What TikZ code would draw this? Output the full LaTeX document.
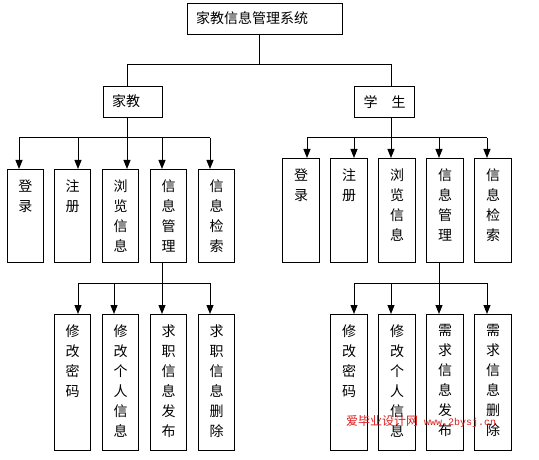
\documentclass[tikz,border=0pt]{standalone}
\usepackage{fontspec}
\newfontfamily\cjk{Noto Sans CJK SC}
\setmonofont{Liberation Mono}
\usetikzlibrary{arrows.meta}
\newcommand\vstack[3]{\parbox[t][#2][t]{#1}{\centering\vspace*{10pt}#3}}
\tikzset{
  box/.style={draw, line width=1pt, inner sep=0pt, anchor=north west, font=\cjk\fontsize{14}{20}\selectfont},
  hbox/.style={draw, line width=1pt, inner sep=0pt, anchor=north west, font=\cjk\fontsize{14}{20}\selectfont},
  conn/.style={line width=1pt},
  arr/.style={line width=1pt, -{Triangle[width=7pt,length=9pt]}},
}
\begin{document}
\begin{tikzpicture}[x=1pt,y=-1pt]
\useasboundingbox (0,0) rectangle (539,460);
\fill[white] (0,0) rectangle (539,460);
% title and second level
\node[hbox, minimum width=155pt, minimum height=31pt] (title) at (187,3) {};
\node[anchor=west, inner sep=0pt, font=\cjk\fontsize{14}{14}\selectfont] (titletext) at (196,18.5) {家教信息管理系统};
\node[hbox, minimum width=59pt, minimum height=31pt] (jj) at (103,86) {};
\node[anchor=west, inner sep=0pt, font=\cjk\fontsize{14}{14}\selectfont] (jjtext) at (112,101.5) {家教};
\node[hbox, minimum width=60pt, minimum height=31pt] (xs) at (354,86) {};
\node[inner sep=0pt, font=\cjk\fontsize{14}{14}\selectfont] (xstext) at (xs.center) {学\hspace{14pt}生};
% left upper row
\node[box] (a1) at (7,169) {\vstack{36pt}{93pt}{登\\录}};
\node[box] (a2) at (54,169) {\vstack{36pt}{93pt}{注\\册}};
\node[box] (a3) at (102,169) {\vstack{36pt}{93pt}{浏\\览\\信\\息}};
\node[box] (a4) at (150,169) {\vstack{36pt}{93pt}{信\\息\\管\\理}};
\node[box] (a5) at (198,169) {\vstack{36pt}{93pt}{信\\息\\检\\索}};
% right upper row
\node[box] (b1) at (282,158) {\vstack{37pt}{104pt}{登\\录}};
\node[box] (b2) at (330,158) {\vstack{37pt}{104pt}{注\\册}};
\node[box] (b3) at (378,158) {\vstack{37pt}{104pt}{浏\\览\\信\\息}};
\node[box] (b4) at (426,158) {\vstack{37pt}{104pt}{信\\息\\管\\理}};
\node[box] (b5) at (474,158) {\vstack{37pt}{104pt}{信\\息\\检\\索}};
% left lower row
\node[box] (c1) at (54,314) {\vstack{36pt}{136pt}{修\\改\\密\\码}};
\node[box] (c2) at (102,314) {\vstack{36pt}{136pt}{修\\改\\个\\人\\信\\息}};
\node[box] (c3) at (150,314) {\vstack{36pt}{136pt}{求\\职\\信\\息\\发\\布}};
\node[box] (c4) at (198,314) {\vstack{36pt}{136pt}{求\\职\\信\\息\\删\\除}};
% right lower row
\node[box] (d1) at (330,314) {\vstack{37pt}{136pt}{修\\改\\密\\码}};
\node[box] (d2) at (378,314) {\vstack{37pt}{136pt}{修\\改\\个\\人\\信\\息}};
\node[box] (d3) at (426,314) {\vstack{37pt}{136pt}{需\\求\\信\\息\\发\\布}};
\node[box] (d4) at (474,314) {\vstack{37pt}{136pt}{需\\求\\信\\息\\删\\除}};
% junction coordinates
\coordinate (t0) at (259,65);
\coordinate (jL) at (127,65);
\coordinate (xR) at (391,65);
\coordinate (h1) at (19,138);
\coordinate (h2) at (78,138);
\coordinate (h3) at (127,138);
\coordinate (h4) at (162,138);
\coordinate (h5) at (210,138);
\coordinate (k1) at (307,138);
\coordinate (k2) at (354,138);
\coordinate (k3) at (391,138);
\coordinate (k4) at (439,138);
\coordinate (k5) at (487,138);
\coordinate (g1) at (78,283);
\coordinate (g2) at (114,283);
\coordinate (g3) at (162,283);
\coordinate (g4) at (210,283);
\coordinate (m1) at (354,283);
\coordinate (m2) at (391,283);
\coordinate (m3) at (439,283);
\coordinate (m4) at (487,283);
% connectors
\draw[conn] (title.south -| t0) -- (t0);
\draw[conn] (jj.north -| jL) -- (jL) -- (xR) -- (xs.north -| xR);
\draw[conn] (jj.south -| h3) -- (h3);
\draw[conn] (h1) -- (h5);
\draw[conn] (xs.south -| k3) -- (k3);
\draw[conn] (k1) -- (k5);
\foreach \i in {1,...,5} {
  \draw[arr] (h\i) -- (a\i.north -| h\i);
  \draw[arr] (k\i) -- (b\i.north -| k\i);
}
\draw[conn] (a4.south -| g3) -- (g3);
\draw[conn] (g1) -- (g4);
\draw[conn] (b4.south -| m3) -- (m3);
\draw[conn] (m1) -- (m4);
\foreach \i in {1,...,4} {
  \draw[arr] (g\i) -- (c\i.north -| g\i);
  \draw[arr] (m\i) -- (d\i.north -| m\i);
}
% watermark
\node[anchor=west, inner sep=0pt, text={rgb,255:red,220;green,30;blue,30}] (wm) at (346,422)
  {{\cjk\fontsize{12}{12}\selectfont 爱毕业设计网}\hspace{6pt}{\ttfamily\fontsize{10}{10}\selectfont www.2bysj.cn}};
\end{tikzpicture}
\end{document}
